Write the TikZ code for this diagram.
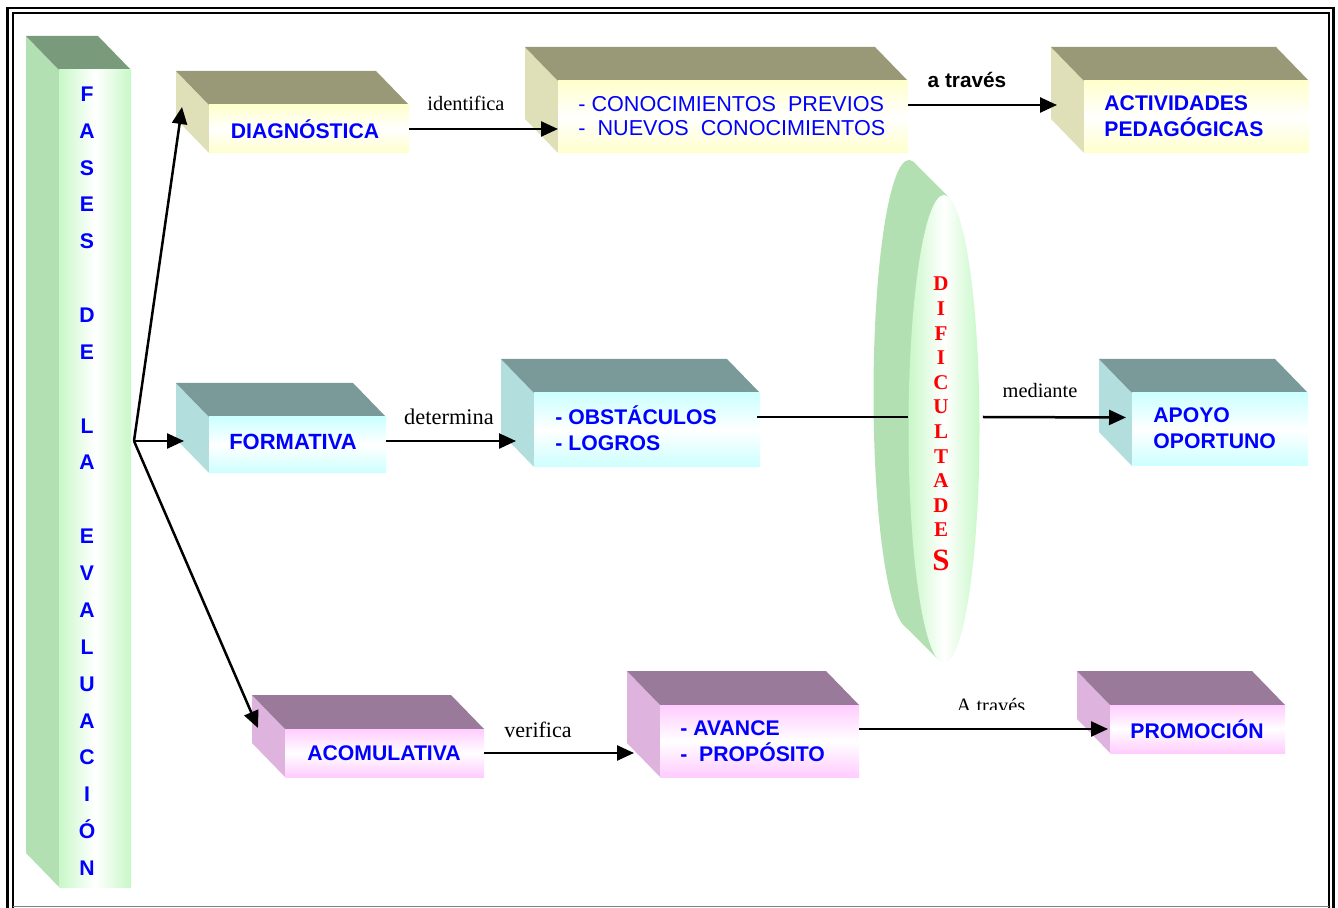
\documentclass[tikz,border=0pt]{standalone}
\usepackage{fontspec}
\setmainfont{Liberation Serif}
\setsansfont{Liberation Sans}
\usepackage{tikz}
\usetikzlibrary{arrows.meta,calc,shapes.geometric}

\definecolor{azul}{HTML}{0000FF}
\definecolor{rojo}{HTML}{FF0000}
\definecolor{verdetecho}{HTML}{7A9A7C}
\definecolor{verdelado}{HTML}{B3E0B3}
\definecolor{verdefrente}{HTML}{C8F8C8}
\definecolor{amarillotecho}{HTML}{999977}
\definecolor{amarillolado}{HTML}{E0E0B8}
\definecolor{amarillofrente}{HTML}{FFFFCC}
\definecolor{celestetecho}{HTML}{7A9999}
\definecolor{celestelado}{HTML}{B3DEDE}
\definecolor{celestefrente}{HTML}{CCFFFF}
\definecolor{lilatecho}{HTML}{9A7A9A}
\definecolor{lilalado}{HTML}{DEB3DE}
\definecolor{lilafrente}{HTML}{FFCCFF}

\tikzset{
  frente/.style={inner sep=0pt, outer sep=0pt, anchor=north west},
  frente verde/.style={left color=verdefrente, right color=verdefrente, middle color=white},
  frente amarillo/.style={top color=amarillofrente, bottom color=amarillofrente, middle color=white},
  frente celeste/.style={top color=celestefrente, bottom color=celestefrente, middle color=white},
  frente lila/.style={top color=lilafrente, bottom color=lilafrente, middle color=white},
  texto/.style={inner sep=0pt, text=azul, font=\sffamily\bfseries\fontsize{10.6}{13}\selectfont},
  lista/.style={texto, anchor=west, align=left},
  letra fase/.style={texto, anchor=base},
  letra dif/.style={inner sep=0pt, anchor=base, text=rojo, font=\rmfamily\bfseries\fontsize{10.5}{12}\selectfont},
  rotulo/.style={inner sep=0pt, font=\rmfamily\fontsize{10.2}{12}\selectfont},
  flecha/.style={line width=1.25pt, -{Triangle[length=8.5pt,width=7.5pt]}},
  linea/.style={line width=0.7pt}
}

% caja 3D: nombre, x, y (esquina frontal), ancho, alto, color
\newcommand{\caja}[6]{%
  \fill[#6lado] (#2-33,#3-34) -- (#2,#3) -- (#2,#3+#5) -- (#2-33,#3+#5-34) -- cycle;
  \fill[#6techo] (#2-33,#3-34) -- (#2+#4-33,#3-34) -- (#2+#4,#3) -- (#2,#3) -- cycle;
  \node[frente, frente #6, minimum width=#4*0.5pt, minimum height=#5*0.5pt] (#1) at (#2,#3) {};
}

\begin{document}
\begin{tikzpicture}[x=0.5pt, y=-0.5pt]
    \useasboundingbox (0,0) rectangle (1338,908);

    % marco
    \draw[line width=1.3pt] (7.5,930) |- (1333.5,8) -- (1333.5,930);
    \draw[line width=1pt] (13,930) |- (1328.5,13.5) -- (1328.5,930);
    \draw[gray, line width=0.8pt] (13,906.5) -- (1328.5,906.5);

    % cajas
    \caja{fases}{59}{70}{72}{817}{verde}
    \caja{diag}{209}{105}{200}{48}{amarillo}
    \caja{conoc}{558}{81}{350}{72}{amarillo}
    \caja{activ}{1084}{81}{225}{72}{amarillo}
    \caja{form}{209}{417}{177}{56}{celeste}
    \caja{obst}{534}{393}{226}{74}{celeste}
    \caja{apoyo}{1132}{393}{176}{73}{celeste}
    \caja{acom}{285}{729}{199}{48}{lila}
    \caja{avance}{660}{705}{199}{72}{lila}
    \caja{promo}{1110}{705}{175}{48}{lila}

    % disco
    \fill[verdelado] (909,394) ellipse [x radius=35.5, y radius=234];
    \fill[verdelado] (914,162.5) -- (949,197.5) -- (939,660.5) -- (904,625.5) -- cycle;
    \node[ellipse, inner sep=0pt, minimum width=71*0.5pt, minimum height=468*0.5pt,
          left color=verdefrente, right color=verdefrente, middle color=white] (dific) at (944,429) {};

    % textos
    \foreach \l [count=\i] in {F,A,S,E,S,{},D,E,{},L,A,{},E,V,A,L,U,A,C,I,Ó,N}
        \node[letra fase] (fase-\i) at (87,{101.4+(\i-1)*36.86}) {\l};
    \foreach \l [count=\i] in {D,I,F,I,C,U,L,T,A,D,E}
        \node[letra dif] (dif-\i) at (941,{291+(\i-1)*24.6}) {\l};
    \node[letra dif, font=\rmfamily\bfseries\fontsize{15.5}{16}\selectfont] (dif-s) at (941,571) {S};

    \node[texto] (t-diag) at (305,129) {DIAGNÓSTICA};
    \node[lista, font=\sffamily\fontsize{10.8}{12}\selectfont] (t-conoc) at (578,116)
        {- CONOCIMIENTOS\ \ PREVIOS\\-\ \ NUEVOS\ \ CONOCIMIENTOS};
    \node[lista] (t-activ) at (1104,116) {ACTIVIDADES\\PEDAGÓGICAS};
    \node[texto, font=\sffamily\bfseries\fontsize{11}{13}\selectfont] (t-form) at (293,442) {FORMATIVA};
    \node[lista] (t-obst) at (555,428) {- OBSTÁCULOS\\- LOGROS};
    \node[lista] (t-apoyo) at (1153,428) {APOYO\\OPORTUNO};
    \node[texto] (t-acom) at (384,753) {ACOMULATIVA};
    \node[lista] (t-avance) at (680,741) {- AVANCE\\-\ \ PROPÓSITO};
    \node[texto] (t-promo) at (1197,729) {PROMOCIÓN};

    % conectores
    \coordinate (origen) at (134,441);
    \draw[flecha] (origen) -- ($(diag.north west)+(-27,2)$);
    \draw[flecha] (origen) -- ($(origen -| form.west)+(-25,0)$);
    \draw[flecha] (origen) -- ($(acom.north west)+(-27,-1)$);
    \draw[flecha] (diag.east) -- (diag.east -| conoc.west);
    \draw[flecha] ($(conoc.east)+(0,-12)$) -- ($(activ.west)+(-27,-12)$);
    \draw[flecha] ($(form.east)+(0,-4)$) -- ($(form.east -| obst.west)+(-18,-4)$);
    \draw[linea] ($(obst.east)+(-3,-13)$) -- ($(obst.east -| dific.west)+(0,-13)$);
    \draw[flecha] ($(dific.east)+(3,-12)$) -- ($(apoyo.west)+(-6,-12)$);
    \draw[flecha] (acom.east) -- ($(acom.east -| avance.west)+(-26,0)$);
    \draw[flecha] (avance.east |- promo.west) -- ($(promo.west)+(-2,0)$);

    % rotulos
    \node[rotulo] (identifica) at (466,103) {identifica};
    \node[rotulo, font=\sffamily\bfseries\fontsize{10.4}{12}\selectfont] (atraves) at (967,80) {a través};
    \node[rotulo, font=\rmfamily\fontsize{11.2}{12}\selectfont] (determina) at (449,417) {determina};
    \node[rotulo] (mediante) at (1040,391) {mediante};
    \node[rotulo, font=\rmfamily\fontsize{11}{12}\selectfont] (verifica) at (538,730) {verifica};
    \begin{scope}
        \clip (940,690) rectangle (1045,709);
        \node[rotulo, anchor=base] (atraves2) at (991,712) {A través};
    \end{scope}
\end{tikzpicture}
\end{document}
